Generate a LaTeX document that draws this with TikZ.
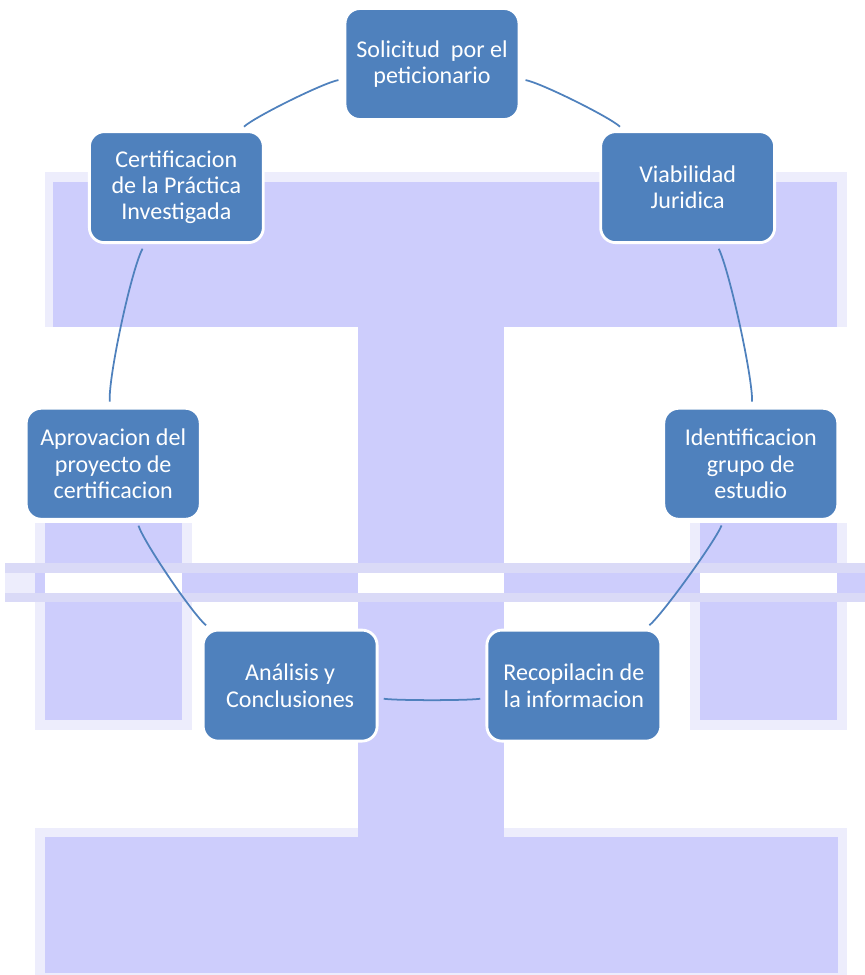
\documentclass[tikz,border=0pt]{standalone}
\usepackage{fontspec}
\setmainfont{Carlito}

\definecolor{boxblue}{HTML}{4F81BD}
\definecolor{lav}{HTML}{CDCDFC}
\definecolor{lavlight}{HTML}{EDEDFC}
\definecolor{lavband}{HTML}{DADAF7}

\tikzset{
  stepbox/.style={rectangle, rounded corners=0.3cm, fill=boxblue, draw=white, line width=1.6pt,
    text=white, align=center, minimum width=3.48cm, minimum height=2.22cm,
    font=\fontsize{13.7}{15}\selectfont},
  link/.style={draw=boxblue, line width=1pt, looseness=0.45,
    shorten <=3pt, shorten >=3pt}
}

\begin{document}
\begin{tikzpicture}[x=0.02cm, y=-0.02cm]

 \useasboundingbox (0,0) rectangle (865,975);

 %background
 \fill[lavlight] (45,172) rectangle (847,327);
 \fill[lavlight] (35,828) rectangle (847,975);
 \foreach \dx in {45,700} {
         \fill[lavlight] (\dx - 10,523) rectangle (\dx + 147,730);
 }
 \fill[lav] (53,182) rectangle (837,327);
 \fill[lav] (358,327) rectangle (504,837);
 \fill[lav] (45,837) rectangle (838,973);
 \foreach \dx in {45,700} {
         \fill[lav] (\dx,523) rectangle (\dx + 137,720);
 }

 %band
 \fill[lavband] (5,563) rectangle (865,602);
 \fill[lav] (35,573) rectangle (865,593);
 \fill[lavlight] (5,573) rectangle (35,593);
 \foreach \dx/\w in {45/137, 358/146, 700/137} {
         \fill[white] (\dx,573) rectangle (\dx + \w,593);
 }

 %cycle
 \def\cx{432}
 \def\cy{391}
 \def\rr{327}

 \foreach \i/\name/\txt in {0/sol/{Solicitud~ por el\\peticionario},
                            1/via/{Viabilidad\\Juridica},
                            2/ide/{Identificacion\\grupo de\\estudio},
                            3/rec/{Recopilacin de\\la informacion},
                            4/ana/{Análisis y\\Conclusiones},
                            5/apr/{Aprovacion del\\proyecto de\\certificacion},
                            6/cer/{Certificacion\\de la Práctica\\Investigada}} {
         \node[stepbox] (\name) at ({\cx + \rr*cos(90 - \i*360/7)}, {\cy - \rr*sin(90 - \i*360/7)}) {\txt};
 }

 %arc
 \foreach \a/\b/\bend in {sol/via/16, via/ide/14, ide/rec/13, rec/ana/8, ana/apr/16, apr/cer/16, cer/sol/16} {
         \draw[link] (\a) to[bend left=\bend] (\b);
 }

\end{tikzpicture}
\end{document}
